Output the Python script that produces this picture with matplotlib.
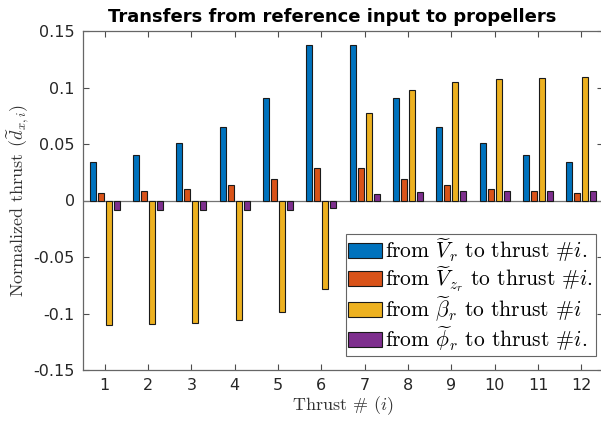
import numpy as np
import matplotlib
matplotlib.use("Agg")
import matplotlib.pyplot as plt

plt.rcParams['mathtext.fontset'] = 'cm'
plt.rcParams['font.family'] = 'DejaVu Sans'

thrusters = np.arange(1, 13)

# transfer gains from each reference input to each propeller
from_vr = [0.0343, 0.0407, 0.0513, 0.0654, 0.0906, 0.1378,
           0.1378, 0.0909, 0.0654, 0.0513, 0.0407, 0.0343]
from_vz = [0.0067, 0.0085, 0.0103, 0.0138, 0.0190, 0.0287,
           0.0287, 0.0190, 0.0140, 0.0103, 0.0085, 0.0067]
from_beta = [-0.1106, -0.1097, -0.1083, -0.1056, -0.0991, -0.0779,
             0.0770, 0.0980, 0.1045, 0.1071, 0.1083, 0.1092]
from_phi = [-0.0082, -0.0082, -0.0082, -0.0082, -0.0080, -0.0064,
            0.0057, 0.0072, 0.0081, 0.0081, 0.0081, 0.0081]

labels = [r"from $\widetilde{V}_r$ to thrust #$i$.",
          r"from $\widetilde{V}_{z_r}$ to thrust #$i$.",
          r"from $\widetilde{\beta}_r$ to thrust #$i$",
          r"from $\widetilde{\phi}_r$ to thrust #$i$."]
colors = ['#0072BD', '#D95319', '#EDB120', '#7E2F8E']

fig = plt.figure(figsize=(6.01, 4.21), dpi=100)
ax = fig.add_axes([83/601, 51/421, 520/601, 339/421])

series = [from_vr, from_vz, from_beta, from_phi]
offsets = [-0.276, -0.092, 0.092, 0.276]
for vals, off, col, lab in zip(series, offsets, colors, labels):
    ax.bar(thrusters + off, vals, width=0.14, color=col, edgecolor='#1a1a1a',
           linewidth=0.8, label=lab, zorder=3)

ax.axhline(0, color='0.45', linewidth=0.9, zorder=2)

ax.set_xlim(0.5, 12.5)
ax.set_ylim(-0.15, 0.15)
ax.set_xticks(thrusters)
ax.set_yticks([-0.15, -0.1, -0.05, 0, 0.05, 0.1, 0.15])
ax.set_yticklabels(['-0.15', '-0.1', '-0.05', '0', '0.05', '0.1', '0.15'])

for sp in ax.spines.values():
    sp.set_color('0.4')
    sp.set_linewidth(0.9)
ax.tick_params(direction='in', length=4, width=0.8, color='0.3',
               labelsize=11.5, labelcolor='#262626', top=True, right=True, pad=6)

serif = {'family': 'cmr10', 'size': 13}
ax.set_xlabel(r"Thrust # ($i$)", fontdict=serif, color='#333333', labelpad=1)
ax.set_ylabel(r"Normalized thrust ($\widetilde{d}_{x,i}$)", fontdict=serif,
              color='#333333', labelpad=2)

fig.text(332/601, 1 - 22/421, "Transfers from reference input to propellers",
         ha='center', va='baseline', fontsize=13, fontweight='bold')

leg = ax.legend(loc='lower right', bbox_to_anchor=(0.986, 0.042),
                prop={'family': 'cmr10', 'size': 15.5},
                frameon=True, fancybox=False, edgecolor='0.4', framealpha=1,
                handlelength=1.55, handleheight=0.7, handletextpad=0.15,
                borderpad=0.12, labelspacing=0.02, borderaxespad=0)
leg.get_frame().set_linewidth(0.8)

fig.savefig("out.png", dpi=100)
